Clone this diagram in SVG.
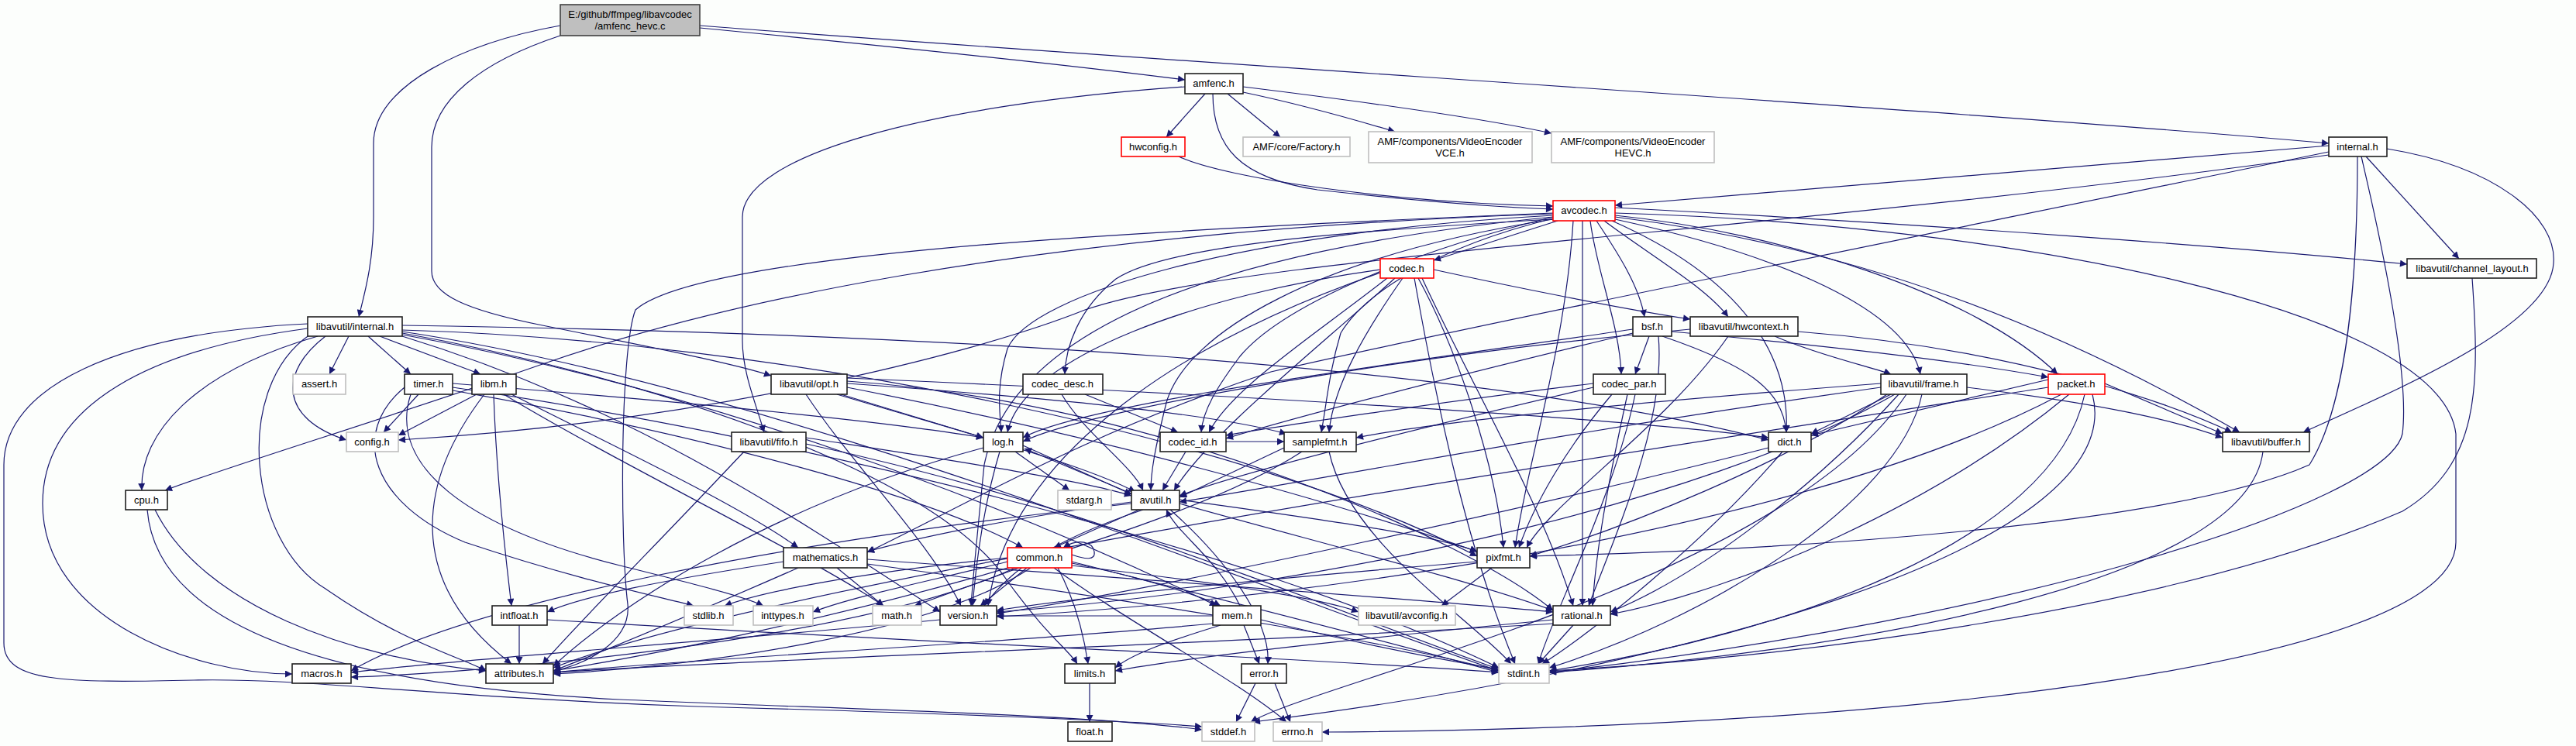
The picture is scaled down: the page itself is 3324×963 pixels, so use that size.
<svg xmlns="http://www.w3.org/2000/svg" width="3324" height="963" viewBox="0 0 3324 963">
<style>
.e path{fill:none;stroke:#191970;stroke-width:1.2;marker-end:url(#a)}
.n rect{fill:#fff;stroke:#202020;stroke-width:1.6}
.g rect{fill:#fff;stroke:#bfbfbf;stroke-width:1.6}
.r rect{fill:#fff;stroke:#ff0000;stroke-width:1.6}
.rt rect{fill:#bfbfbf;stroke:#404040;stroke-width:1.6}
text{font-family:"Liberation Sans",Arial,sans-serif;font-size:13px;fill:#000;text-anchor:middle}
</style>
<defs>
<marker id="a" viewBox="0 0 10 10" refX="10" refY="5" markerWidth="12" markerHeight="9" markerUnits="userSpaceOnUse" orient="auto"><path d="M0,0 L10,5 L0,10 z" fill="#191970"/></marker>
</defs>
<rect x="0" y="0" width="3324" height="963" fill="#fcfefc"/>
<g id="edges" class="e">
<path d="M903,36 C1100,55 1350,80 1529,103"/>
<path d="M903,33 C1500,80 2500,140 3005,185"/>
<path d="M723,33 C600,55 482,110 482,185 L482,280 C482,340 470,380 463,409"/>
<path d="M723,46 C620,80 557,130 557,190 L557,350 C557,380 600,400 700,420 C850,450 950,470 995,485"/>
<path d="M1555,121 L1505,177"/>
<path d="M1584,121 L1652,177"/>
<path d="M1604,119 C1680,135 1750,155 1800,170"/>
<path d="M1604,112 C1750,130 1900,150 2002,172"/>
<path d="M1565,121 C1565,190 1600,230 1700,245 C1850,262 1950,268 2004,270"/>
<path d="M1529,112 C1200,135 958,200 958,280 L958,440 C958,480 975,520 986,558"/>
<path d="M1521,202 C1580,230 1800,262 2004,266"/>
<path d="M3005,188 L2084,265"/>
<path d="M3005,200 C2300,300 1600,330 1400,400 C1250,460 900,545 514,568"/>
<path d="M3080,192 C3220,215 3300,280 3295,340 C3290,420 3100,500 2972,558"/>
<path d="M3053,202 L3173,334"/>
<path d="M3042,202 C3042,350 3030,520 2980,600 C2800,680 2300,710 1974,718"/>
<path d="M3047,202 C3070,300 3110,480 3100,560 C3080,650 2600,800 1999,868"/>
<path d="M3005,196 C2500,300 1900,420 1640,480 C1400,560 1250,650 1119,713"/>
<path d="M2010,285 L1850,336"/>
<path d="M2060,285 C2090,330 2115,370 2122,409"/>
<path d="M2070,285 C2130,330 2200,370 2230,409"/>
<path d="M2004,283 C1700,300 1500,320 1440,360 C1390,400 1375,450 1374,483"/>
<path d="M2052,285 C2060,350 2090,420 2092,483"/>
<path d="M2004,280 C1800,330 1650,400 1600,460 C1570,500 1552,530 1550,558"/>
<path d="M2084,278 C2300,300 2550,380 2655,483"/>
<path d="M2004,282 C1850,320 1760,380 1730,430 C1715,480 1712,520 1705,558"/>
<path d="M2004,275 C1400,300 900,330 820,400 C800,450 800,700 810,780 C815,830 750,860 714,866"/>
<path d="M2004,283 C1700,330 1530,430 1505,520 C1490,580 1485,610 1485,633"/>
<path d="M2084,280 C2400,320 2650,420 2890,558"/>
<path d="M2004,276 C1300,300 900,400 700,470 C500,540 300,600 213,633"/>
<path d="M2084,268 C2500,290 2900,320 3106,341"/>
<path d="M2080,285 C2250,360 2310,460 2305,558"/>
<path d="M2084,283 C2300,330 2460,400 2478,483"/>
<path d="M2004,278 C1600,300 1330,380 1300,450 C1285,500 1290,530 1292,558"/>
<path d="M2030,285 C2020,450 1970,600 1955,707"/>
<path d="M2042,285 L2042,782"/>
<path d="M2004,280 C1500,330 1300,450 1270,600 C1260,700 1255,750 1253,782"/>
<path d="M2084,275 C2600,290 3150,400 3169,560 L3169,700 C3169,850 2500,940 1706,945"/>
<path d="M1825,359 C1850,500 1890,700 1955,857"/>
<path d="M1800,359 C1700,450 1560,560 1515,633"/>
<path d="M1850,348 C1950,370 2100,400 2181,412"/>
<path d="M1781,348 C1550,380 1320,460 1300,558"/>
<path d="M1830,359 C1880,450 1930,600 1940,707"/>
<path d="M1835,359 C1900,500 1990,650 2030,782"/>
<path d="M1810,359 C1760,430 1720,500 1715,558"/>
<path d="M1790,359 C1700,430 1590,500 1560,558"/>
<path d="M1781,352 C1500,450 1300,600 1275,782"/>
<path d="M3190,359 C3200,500 3200,600 3100,660 C2800,790 2300,850 1999,866"/>
<path d="M519,430 C800,480 1200,600 1300,750 C1350,820 1380,840 1390,857"/>
<path d="M519,428 C1000,500 1600,750 1934,866"/>
<path d="M397,418 C150,430 5,500 5,600 L5,830 C5,880 80,882 250,878 C400,875 560,900 900,912 C1200,920 1450,930 1551,938"/>
<path d="M450,434 L425,483"/>
<path d="M420,434 C360,480 360,540 447,568"/>
<path d="M400,432 C300,500 320,700 420,760 C520,830 600,850 627,866"/>
<path d="M475,434 L530,483"/>
<path d="M410,434 C250,480 180,560 183,633"/>
<path d="M519,420 C1200,430 1900,470 2282,568"/>
<path d="M397,424 C200,450 55,520 55,650 C55,800 250,870 377,870"/>
<path d="M519,432 C900,500 1300,650 1570,782"/>
<path d="M519,426 C1000,440 1600,560 1906,718"/>
<path d="M519,434 C800,520 1000,650 1213,790"/>
<path d="M490,434 L620,483"/>
<path d="M2145,434 C2250,470 2300,500 2305,558"/>
<path d="M2107,425 C1800,470 1400,520 1320,565"/>
<path d="M2140,434 C2150,550 2080,700 2050,782"/>
<path d="M2107,430 C1900,480 1700,530 1582,566"/>
<path d="M2128,434 L2110,483"/>
<path d="M2157,428 C2400,450 2550,470 2643,487"/>
<path d="M2290,434 C2350,460 2420,475 2440,483"/>
<path d="M2320,428 C2600,450 2800,520 2880,558"/>
<path d="M2181,425 C1800,460 1400,530 1320,570"/>
<path d="M2230,434 C2150,550 2000,650 1970,707"/>
<path d="M540,509 L495,558"/>
<path d="M522,500 C450,560 480,650 600,700 C750,750 850,770 895,782"/>
<path d="M584,500 C1000,560 1600,700 1934,862"/>
<path d="M530,509 C500,600 600,680 800,730 C900,755 960,770 985,782"/>
<path d="M584,504 C900,560 1200,640 1320,707"/>
<path d="M584,495 C900,520 1150,545 1269,565"/>
<path d="M650,509 C800,600 1050,720 1140,782"/>
<path d="M615,509 L514,562"/>
<path d="M625,509 C540,620 520,750 660,857"/>
<path d="M637,509 C640,600 650,700 660,782"/>
<path d="M660,509 C800,580 950,650 1030,707"/>
<path d="M1093,492 C1500,520 1900,700 2004,788"/>
<path d="M1080,509 C1250,560 1400,600 1465,635"/>
<path d="M1093,488 C1600,510 2100,540 2282,565"/>
<path d="M1085,509 L1269,565"/>
<path d="M1093,500 C1400,560 1700,640 1906,712"/>
<path d="M1093,495 C1300,510 1550,530 1660,560"/>
<path d="M1040,509 C1100,600 1200,700 1240,782"/>
<path d="M1370,509 C1400,560 1460,600 1475,633"/>
<path d="M1400,509 L1520,558"/>
<path d="M2110,509 C2080,650 2000,800 1985,857"/>
<path d="M2056,500 C1800,560 1600,610 1522,640"/>
<path d="M2100,509 C2080,600 2060,700 2055,782"/>
<path d="M2080,509 C2020,580 1980,650 1960,707"/>
<path d="M2056,495 C1850,520 1650,550 1582,562"/>
<path d="M2460,509 C2300,750 1700,880 1614,932"/>
<path d="M2480,509 C2450,650 2200,800 1999,862"/>
<path d="M2427,500 C2000,560 1700,620 1522,648"/>
<path d="M2538,500 C2700,520 2800,540 2868,565"/>
<path d="M2440,509 L2337,560"/>
<path d="M2450,509 C2350,620 2200,740 2078,790"/>
<path d="M2427,495 C2100,520 1850,545 1750,565"/>
<path d="M2435,509 C2300,600 2100,680 1974,718"/>
<path d="M2445,509 C2200,650 1700,760 1286,790"/>
<path d="M2700,509 C2750,700 2200,860 1617,932"/>
<path d="M2690,509 C2650,700 2300,820 1999,866"/>
<path d="M2643,500 C2000,600 1000,750 714,862"/>
<path d="M2716,495 L2868,560"/>
<path d="M2643,490 L2337,562"/>
<path d="M2670,509 C2500,650 2250,760 2078,793"/>
<path d="M2660,509 C2300,700 1600,780 1286,796"/>
<path d="M1040,573 C1400,650 1700,780 1934,864"/>
<path d="M1040,565 C1200,590 1400,620 1460,640"/>
<path d="M960,583 C850,700 750,800 700,857"/>
<path d="M1310,583 L1380,633"/>
<path d="M1320,575 L1460,638"/>
<path d="M1269,578 C1000,650 800,780 714,860"/>
<path d="M1290,583 C1270,650 1260,720 1255,782"/>
<path d="M1530,583 L1500,633"/>
<path d="M1582,570 L1657,570"/>
<path d="M1715,583 C1740,700 1900,800 1950,857"/>
<path d="M1657,578 L1522,642"/>
<path d="M1680,583 C1500,700 1000,820 714,866"/>
<path d="M2300,583 C2200,700 2050,820 1990,857"/>
<path d="M2282,578 C2000,650 1500,760 1286,792"/>
<path d="M2920,583 C2900,750 2400,840 1999,868"/>
<path d="M190,658 C200,780 350,880 800,903 C1100,916 1400,922 1551,942"/>
<path d="M200,658 C260,780 450,850 627,866"/>
<path d="M1470,658 L1360,707"/>
<path d="M1510,658 C1580,720 1640,800 1636,857"/>
<path d="M1522,650 C1700,700 1900,750 2004,788"/>
<path d="M1475,658 C1350,700 1300,740 1270,782"/>
<path d="M1460,650 C1000,700 600,780 453,866"/>
<path d="M1460,648 C1300,670 1200,690 1119,712"/>
<path d="M1462,638 L1322,579"/>
<path d="M1522,645 C1700,670 1850,690 1906,712"/>
<path d="M1600,782 C1570,720 1520,690 1505,658"/>
<path d="M1119,728 C1500,780 1800,830 1934,866"/>
<path d="M1080,733 L1140,782"/>
<path d="M1030,733 C900,790 780,840 714,866"/>
<path d="M1119,722 C1500,750 1850,775 2004,790"/>
<path d="M1011,725 C850,750 750,770 706,790"/>
<path d="M1360,733 C1450,800 1600,880 1660,932"/>
<path d="M1300,725 C1200,750 1100,770 1049,790"/>
<path d="M1365,733 C1390,780 1400,830 1404,857"/>
<path d="M1315,733 L1180,782"/>
<path d="M1383,725 C1600,780 1800,830 1934,868"/>
<path d="M1300,720 C1100,740 980,765 935,782"/>
<path d="M1330,733 C1200,820 900,860 714,870"/>
<path d="M1310,733 C1100,830 600,870 453,874"/>
<path d="M1325,733 L1265,782"/>
<path d="M1383,730 C1550,750 1700,770 1753,790"/>
<path d="M1383,727 C1450,740 1540,765 1575,782"/>
<path d="M1383,716 C1400,722 1414,724 1412,712 C1410,700 1392,694 1372,707"/>
<path d="M1925,733 L1860,782"/>
<path d="M1906,725 C1600,750 1400,770 1286,788"/>
<path d="M706,800 C1200,830 1700,850 1934,868"/>
<path d="M670,807 L670,857"/>
<path d="M1213,800 C900,830 600,850 453,868"/>
<path d="M1575,807 C1500,830 1460,845 1439,862"/>
<path d="M1627,800 C1750,830 1850,850 1934,864"/>
<path d="M1565,805 C1300,830 900,850 714,868"/>
<path d="M1605,807 L1625,857"/>
<path d="M1565,795 L1286,795"/>
<path d="M2030,807 L1985,857"/>
<path d="M2004,800 C1800,820 1550,845 1439,866"/>
<path d="M2004,805 C1600,830 1000,850 714,868"/>
<path d="M1406,882 L1406,932"/>
<path d="M1645,882 L1665,932"/>
<path d="M1620,882 L1595,932"/>
</g>
<g id="n_root" class="rt"><rect x="723" y="6" width="180" height="40"/><text x="813" y="23">E:/github/ffmpeg/libavcodec</text><text x="813" y="38">/amfenc_hevc.c</text></g>
<g id="n_amfenc" class="n"><rect x="1529" y="95" width="75" height="26"/><text x="1566" y="112">amfenc.h</text></g>
<g id="n_hwconfig" class="r"><rect x="1447" y="177" width="82" height="25"/><text x="1488" y="194">hwconfig.h</text></g>
<g id="n_factory" class="g"><rect x="1604" y="177" width="138" height="25"/><text x="1673" y="194">AMF/core/Factory.h</text></g>
<g id="n_vce" class="g"><rect x="1766" y="170" width="211" height="40"/><text x="1871" y="187">AMF/components/VideoEncoder</text><text x="1871" y="202">VCE.h</text></g>
<g id="n_hevc" class="g"><rect x="2002" y="170" width="210" height="40"/><text x="2107" y="187">AMF/components/VideoEncoder</text><text x="2107" y="202">HEVC.h</text></g>
<g id="n_internal" class="n"><rect x="3005" y="177" width="75" height="25"/><text x="3042" y="194">internal.h</text></g>
<g id="n_avcodec" class="r"><rect x="2004" y="259" width="80" height="26"/><text x="2044" y="276">avcodec.h</text></g>
<g id="n_codec" class="r"><rect x="1781" y="334" width="69" height="25"/><text x="1815" y="351">codec.h</text></g>
<g id="n_chlayout" class="n"><rect x="3106" y="334" width="167" height="25"/><text x="3190" y="351">libavutil/channel_layout.h</text></g>
<g id="n_lavu_internal" class="n"><rect x="397" y="409" width="122" height="25"/><text x="458" y="426">libavutil/internal.h</text></g>
<g id="n_bsf" class="n"><rect x="2107" y="409" width="50" height="25"/><text x="2132" y="426">bsf.h</text></g>
<g id="n_hwcontext" class="n"><rect x="2181" y="409" width="139" height="25"/><text x="2250" y="426">libavutil/hwcontext.h</text></g>
<g id="n_assert" class="g"><rect x="378" y="483" width="68" height="26"/><text x="412" y="500">assert.h</text></g>
<g id="n_timer" class="n"><rect x="522" y="483" width="62" height="26"/><text x="553" y="500">timer.h</text></g>
<g id="n_libm" class="n"><rect x="609" y="483" width="57" height="26"/><text x="637" y="500">libm.h</text></g>
<g id="n_opt" class="n"><rect x="995" y="483" width="98" height="26"/><text x="1044" y="500">libavutil/opt.h</text></g>
<g id="n_codec_desc" class="n"><rect x="1320" y="483" width="103" height="26"/><text x="1371" y="500">codec_desc.h</text></g>
<g id="n_codec_par" class="n"><rect x="2056" y="483" width="93" height="26"/><text x="2102" y="500">codec_par.h</text></g>
<g id="n_frame" class="n"><rect x="2427" y="483" width="111" height="26"/><text x="2482" y="500">libavutil/frame.h</text></g>
<g id="n_packet" class="r"><rect x="2643" y="483" width="73" height="26"/><text x="2679" y="500">packet.h</text></g>
<g id="n_config" class="g"><rect x="447" y="558" width="67" height="25"/><text x="480" y="575">config.h</text></g>
<g id="n_fifo" class="n"><rect x="944" y="558" width="96" height="25"/><text x="992" y="575">libavutil/fifo.h</text></g>
<g id="n_log" class="n"><rect x="1269" y="558" width="51" height="25"/><text x="1294" y="575">log.h</text></g>
<g id="n_codec_id" class="n"><rect x="1497" y="558" width="85" height="25"/><text x="1539" y="575">codec_id.h</text></g>
<g id="n_samplefmt" class="n"><rect x="1657" y="558" width="93" height="25"/><text x="1703" y="575">samplefmt.h</text></g>
<g id="n_dict" class="n"><rect x="2282" y="558" width="55" height="25"/><text x="2309" y="575">dict.h</text></g>
<g id="n_buffer" class="n"><rect x="2868" y="558" width="112" height="25"/><text x="2924" y="575">libavutil/buffer.h</text></g>
<g id="n_cpu" class="n"><rect x="162" y="633" width="54" height="25"/><text x="189" y="650">cpu.h</text></g>
<g id="n_stdarg" class="g"><rect x="1365" y="633" width="69" height="25"/><text x="1399" y="650">stdarg.h</text></g>
<g id="n_avutil" class="n"><rect x="1460" y="633" width="62" height="25"/><text x="1491" y="650">avutil.h</text></g>
<g id="n_mathematics" class="n"><rect x="1011" y="707" width="108" height="26"/><text x="1065" y="724">mathematics.h</text></g>
<g id="n_common" class="r"><rect x="1300" y="707" width="83" height="26"/><text x="1341" y="724">common.h</text></g>
<g id="n_pixfmt" class="n"><rect x="1906" y="707" width="68" height="26"/><text x="1940" y="724">pixfmt.h</text></g>
<g id="n_intfloat" class="n"><rect x="635" y="782" width="71" height="25"/><text x="670" y="799">intfloat.h</text></g>
<g id="n_stdlib" class="g"><rect x="883" y="782" width="63" height="25"/><text x="914" y="799">stdlib.h</text></g>
<g id="n_inttypes" class="g"><rect x="972" y="782" width="77" height="25"/><text x="1010" y="799">inttypes.h</text></g>
<g id="n_math" class="g"><rect x="1126" y="782" width="63" height="25"/><text x="1157" y="799">math.h</text></g>
<g id="n_version" class="n"><rect x="1213" y="782" width="73" height="25"/><text x="1249" y="799">version.h</text></g>
<g id="n_mem" class="n"><rect x="1565" y="782" width="62" height="25"/><text x="1596" y="799">mem.h</text></g>
<g id="n_avconfig" class="g"><rect x="1753" y="782" width="125" height="25"/><text x="1815" y="799">libavutil/avconfig.h</text></g>
<g id="n_rational" class="n"><rect x="2004" y="782" width="74" height="25"/><text x="2041" y="799">rational.h</text></g>
<g id="n_macros" class="n"><rect x="377" y="857" width="76" height="25"/><text x="415" y="874">macros.h</text></g>
<g id="n_attributes" class="n"><rect x="627" y="857" width="87" height="25"/><text x="670" y="874">attributes.h</text></g>
<g id="n_limits" class="n"><rect x="1374" y="857" width="65" height="25"/><text x="1406" y="874">limits.h</text></g>
<g id="n_error" class="n"><rect x="1602" y="857" width="58" height="25"/><text x="1631" y="874">error.h</text></g>
<g id="n_stdint" class="g"><rect x="1934" y="857" width="65" height="25"/><text x="1966" y="874">stdint.h</text></g>
<g id="n_float" class="n"><rect x="1378" y="932" width="57" height="25"/><text x="1406" y="949">float.h</text></g>
<g id="n_stddef" class="g"><rect x="1551" y="932" width="68" height="25"/><text x="1585" y="949">stddef.h</text></g>
<g id="n_errno" class="g"><rect x="1643" y="932" width="63" height="25"/><text x="1674" y="949">errno.h</text></g>
</svg>
